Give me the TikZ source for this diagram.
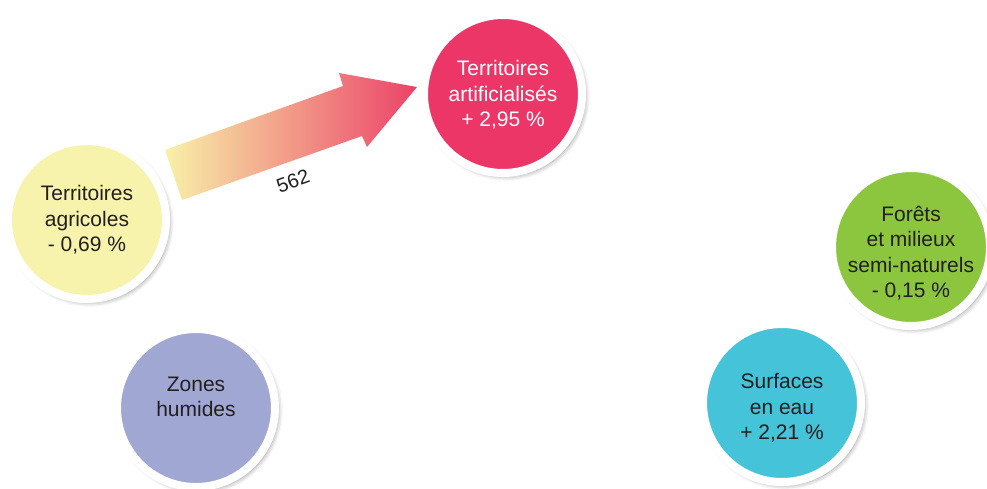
\documentclass[tikz,border=0pt]{standalone}
\usepackage{fontspec}
\setmainfont{Liberation Sans}
\usetikzlibrary{shadows,shadows.blur}
\definecolor{cagri}{HTML}{F8F3AC}
\definecolor{cartif}{HTML}{EC3667}
\definecolor{cforet}{HTML}{8CC63F}
\definecolor{ceau}{HTML}{45C3D8}
\definecolor{chumide}{HTML}{A0A7D3}
\definecolor{ctext}{HTML}{231F20}
\definecolor{flowstart}{HTML}{F8F1A8}
\definecolor{flowend}{HTML}{EB4268}
\tikzset{
  zone/.style={
    circle, fill=#1, draw=white, line width=8pt, minimum size=158pt,
    inner sep=0pt,
    blur shadow={shadow xshift=3pt, shadow yshift=-3pt,
      shadow blur radius=5pt, shadow opacity=45}
  },
  ztext/.style={align=center, text=ctext, inner sep=0pt,
    font=\fontsize{21}{25.5}\selectfont},
  flow/.style={left color=flowstart, right color=flowend, draw=none},
  flowlab/.style={font=\fontsize{20}{22}\selectfont, text=ctext, rotate=20}
}
\begin{document}
\begin{tikzpicture}[x=1pt, y=-1pt]
  \useasboundingbox (0,0) rectangle (987,488);
  % zones
  \node[zone=cagri] (agri) at (87,220) {};
  \node[ztext] (agri-t) at (agri) {Territoires\\agricoles\\- 0,69 \%};
  \node[zone=cartif] (artif) at (503,94) {};
  \node[ztext, text=white] (artif-t) at ([yshift=-1pt]artif) {Territoires\\artificialisés\\+ 2,95 \%};
  \node[zone=cforet] (foret) at (911,247) {};
  \node[ztext] (foret-t) at ([yshift=-6pt]foret) {Forêts\\et milieux\\semi-naturels\\- 0,15 \%};
  \node[zone=ceau] (eau) at (782,403) {};
  \node[ztext] (eau-t) at ([yshift=-5pt]eau) {Surfaces\\en eau\\+ 2,21 \%};
  \node[zone=chumide] (humide) at (196,408) {};
  \node[ztext] (humide-t) at ([yshift=11pt]humide) {Zones\\humides};
  % flux agricole -> artificialise
  \coordinate (tip) at (417,87);
  \path[flow] (165,150) -- (343,86) -- (339,73) -- (tip) -- (367,147)
    -- (362,136) -- (182,200) -- cycle;
  \node[flowlab] (nb) at (293,181) {562};
\end{tikzpicture}
\end{document}
